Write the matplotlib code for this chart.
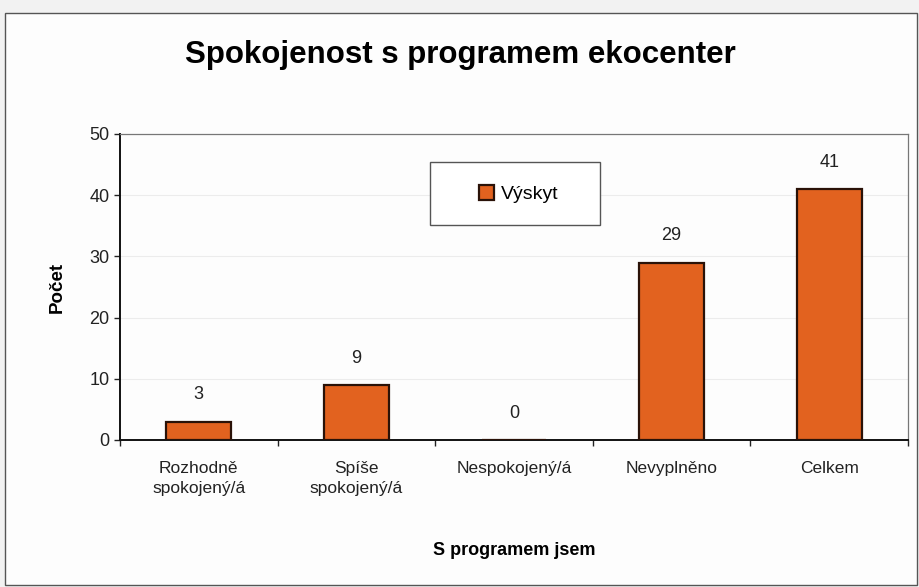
import matplotlib
matplotlib.use("Agg")
import matplotlib.pyplot as plt
from matplotlib.patches import Rectangle

categories = ["Rozhodně\nspokojený/á", "Spíše\nspokojený/á", "Nespokojený/á", "Nevyplněno", "Celkem"]
values = [3, 9, 0, 29, 41]
yticks = [0, 10, 20, 30, 40, 50]

plt.rcParams['font.family'] = ['Liberation Sans', 'DejaVu Sans']

fig = plt.figure(figsize=(9.2, 5.87), dpi=100)
fig.patch.set_facecolor('#f2f2f2')
# frame
fig.patches.append(Rectangle((5/920, 2/587), 912/920, 572/587, transform=fig.transFigure,
                             facecolor='#fdfdfd', edgecolor='#555555', linewidth=1.0, zorder=-5))

ax = fig.add_axes([120/920, 1-440/587, 788/920, 306/587])
ax.set_zorder(2)
ax.set_facecolor('none')
x = list(range(len(categories)))
bars = ax.bar(x, values, width=0.41, color='#E2621F', edgecolor='#2a1208', linewidth=1.6,
              label='Výskyt', zorder=3)
for xi, v in zip(x, values):
    ax.text(xi, v + 3.0, str(v), ha='center', va='bottom', fontsize=13, color='#222222')

ax.set_xlim(-0.5, len(categories) - 0.5)
ax.set_ylim(0, 50)
ax.set_yticks(yticks)
ax.set_xticks(x)
ax.set_xticklabels(categories, fontsize=12.5, color='#222222', linespacing=1.45)
ax.set_xticks([i + 0.5 for i in range(-1, len(categories))], minor=True)
ax.tick_params(axis='y', labelsize=13, colors='#222222', length=4, width=1)
ax.tick_params(axis='x', which='major', length=0, pad=15)
ax.tick_params(axis='x', which='minor', length=4, width=1, color='#222222')
ax.yaxis.grid(True, color='#ececec', linewidth=0.8, zorder=0)
ax.set_axisbelow(True)
for s in ['top', 'right']:
    ax.spines[s].set_color('#777777')
    ax.spines[s].set_linewidth(0.9)
ax.spines['left'].set_linewidth(1.4)
ax.spines['bottom'].set_linewidth(1.4)
ax.spines['left'].set_color('#111111')
ax.spines['bottom'].set_color('#111111')

ax.set_ylabel('Počet', fontsize=13.5, fontweight='bold', labelpad=17)
ax.set_xlabel('S programem jsem', fontsize=13, fontweight='bold', labelpad=33)
fig.text(0.5, 1-55/587, 'Spokojenost s programem ekocenter', ha='center', va='center',
         fontsize=22.5, fontweight='bold')

# legend box
bx0, bw = (430-120)/788, 170/788
by0, bh = (440-225)/306, 63/306
ax.add_patch(Rectangle((bx0, by0), bw, bh, transform=ax.transAxes, facecolor='white',
                       edgecolor='#555555', linewidth=1.0, zorder=4))
leg = ax.legend(loc='center', bbox_to_anchor=(bx0 + bw/2 + 0.005, by0 + bh/2 - 0.003),
                frameon=False, fontsize=14, handlelength=0.75, handleheight=0.75,
                handletextpad=0.4, borderpad=0)
leg.set_zorder(5)

fig.savefig('out.png', dpi=100, facecolor=fig.get_facecolor())
